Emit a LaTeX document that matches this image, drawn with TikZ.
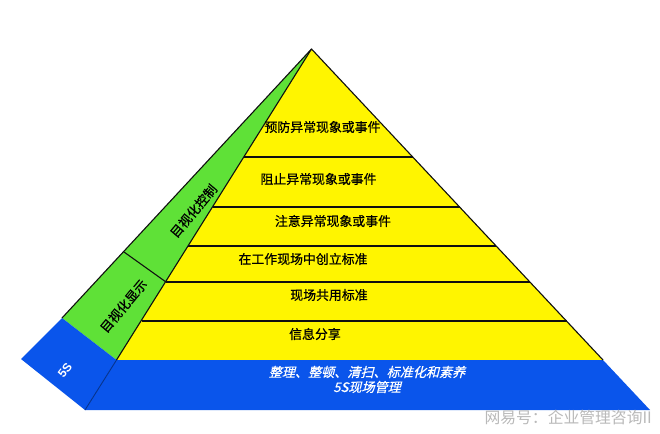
\documentclass[tikz,border=0pt]{standalone}
\usepackage{fontspec}
\setmainfont[FakeBold=0.6]{Noto Sans CJK SC}
\newfontfamily\cjkslant[FakeSlant=0.25,FakeBold=0.6]{Noto Sans CJK SC}
\newfontfamily\cjkplain{Noto Sans CJK SC}
\newfontfamily\latinbold{Liberation Sans}
\definecolor{pyyellow}{RGB}{255,245,0}
\definecolor{pygreen}{RGB}{95,225,55}
\definecolor{pyblue}{RGB}{10,85,235}
\definecolor{pyline}{RGB}{15,15,15}
\definecolor{pymark}{RGB}{185,185,185}
\tikzset{
  edge/.style={draw=pyline,line width=1.1pt,line join=round},
  blueedge/.style={draw=pyblue!60!black,line width=0.9pt},
  lab/.style={text=black,font=\fontsize{12.9}{14}\selectfont,inner sep=0pt},
  sidelab/.style={lab,rotate=50},
  whitelab/.style={text=white,font=\fontsize{13.1}{14}\cjkslant\selectfont,inner sep=0pt}
}
\begin{document}
\begin{tikzpicture}[x=1pt,y=-1pt]
\useasboundingbox (0,0) rectangle (660,433);
\coordinate (apex) at (311.5,49);
\coordinate (botL) at (85,410);
\coordinate (botR) at (650,410);
\coordinate (outer) at (21,359);
\coordinate (gbOut) at (62,318);
\coordinate (gbIn) at (116.5,360);
\coordinate (ggOut) at (124,252);
\coordinate (ggIn) at (166,282);
\coordinate (bandR) at (603,360);
\coordinate (l1a) at (243.7,157); \coordinate (l1b) at (412.8,157);
\coordinate (l2a) at (212.5,207); \coordinate (l2b) at (459.6,207);
\coordinate (l3a) at (188,246);   \coordinate (l3b) at (496.2,246);
\coordinate (l4a) at (166,282);   \coordinate (l4b) at (530,282);
\coordinate (l5a) at (141.5,321); \coordinate (l5b) at (567,321);
% fills
\fill[pyyellow] (apex) -- (bandR) -- (gbIn) -- cycle;
\fill[pygreen] (apex) -- (gbIn) -- (gbOut) -- cycle;
\fill[pyblue] (gbIn) -- (bandR) -- (botR) -- (botL) -- cycle;
\fill[pyblue] (gbOut) -- (gbIn) -- (botL) -- (outer) -- cycle;
% lines
\draw[edge] (gbOut) -- (apex) -- (bandR);
\draw[edge] (apex) -- (gbIn);
\draw[edge] (ggOut) -- (ggIn);
\foreach \a/\b in {l1a/l1b,l2a/l2b,l3a/l3b,l4a/l4b,l5a/l5b} \draw[edge] (\a) -- (\b);
\draw[blueedge] (gbIn) -- (botL);
% labels
\node[lab] (t1) at (322.5,127) {预防异常现象或事件};
\node[lab] (t2) at (318.5,179) {阻止异常现象或事件};
\node[lab] (t3) at (333,221) {注意异常现象或事件};
\node[lab] (t4) at (303,259) {在工作现场中创立标准};
\node[lab] (t5) at (329,295) {现场共用标准};
\node[lab] (t6) at (315,334) {信息分享};
\node[sidelab] (s1) at (193.5,211) {目视化控制};
\node[sidelab] (s2) at (123.5,306) {目视化显示};
\node[whitelab] (w1) at (367,372) {整理、整顿、清扫、标准化和素养};
\node[whitelab] (w2) at (367,387) {5S现场管理};
\node[text=white,font=\fontsize{12}{13}\latinbold\bfseries,inner sep=0pt,rotate=52] (s3) at (65,370) {5S};
\node[text=pymark,font=\fontsize{15.8}{17}\cjkplain\selectfont,inner sep=0pt,anchor=east] (wm) at (652,417) {网易号：企业管理咨询II};
\end{tikzpicture}
\end{document}
